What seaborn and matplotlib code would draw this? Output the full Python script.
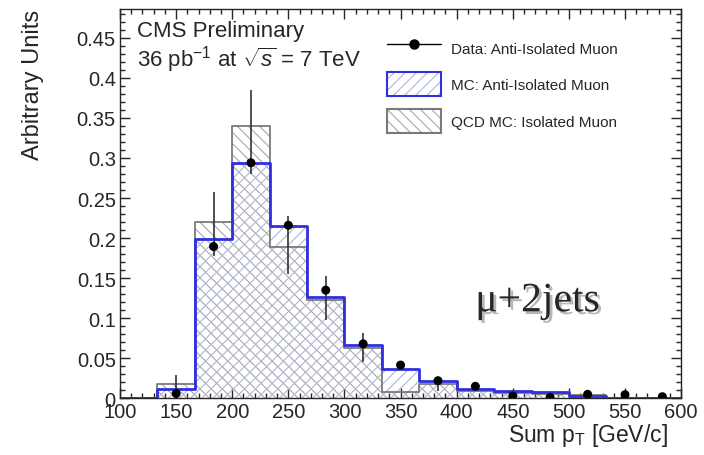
import numpy as np
import pandas as pd
import seaborn as sns
import matplotlib.pyplot as plt
import matplotlib.patheffects as pe
from matplotlib.lines import Line2D
from matplotlib.patches import Patch
from matplotlib.ticker import MultipleLocator, FuncFormatter

# histogram binning (Sum pT, GeV/c)
bin_edges = [100, 133.33, 166.67, 200, 233.33, 266.67, 300, 333.33,
             366.67, 400, 433.33, 466.67, 500, 533.33, 566.67, 600]
# QCD MC, isolated muon
qcd_iso = [0.0, 0.018, 0.220, 0.340, 0.189, 0.123, 0.063, 0.0075,
           0.018, 0.009, 0.007, 0.005, 0.004, 0.001, 0.001]
# MC, anti-isolated muon
mc_anti = [0.0, 0.0116, 0.1995, 0.294, 0.215, 0.126, 0.066, 0.0365,
           0.022, 0.0116, 0.0095, 0.0075, 0.003, 0.001, 0.001]

# data, anti-isolated muon
data_x = [150, 183.33, 216.67, 250, 283.33, 316.67, 350, 383.33,
          416.67, 450, 483.33, 516.67, 550, 583.33]
data_y = [0.006, 0.1895, 0.294, 0.216, 0.135, 0.068, 0.0415, 0.022,
          0.015, 0.003, 0.001, 0.005, 0.0045, 0.002]
data_lo = [0.0, 0.178, 0.280, 0.155, 0.098, 0.045, 0.038, 0.0095,
           0.011, 0.0, 0.0, 0.002, 0.001, 0.0]
data_hi = [0.029, 0.257, 0.385, 0.228, 0.153, 0.082, 0.045, 0.026,
           0.019, 0.007, 0.005, 0.008, 0.008, 0.005]

mc_line = "#2f2fe0"
mc_hatch = "#adb5de"
qcd_line = "#7a7a7a"
qcd_hatch = "#a8a8a8"

sns.set_style("ticks")
plt.rcParams['font.family'] = ['Liberation Sans', 'DejaVu Sans']
plt.rcParams['mathtext.fontset'] = 'custom'
plt.rcParams['mathtext.rm'] = 'Liberation Sans'
plt.rcParams['mathtext.it'] = 'Liberation Sans:italic'
plt.rcParams['hatch.linewidth'] = 0.8

fig = plt.figure(figsize=(7.04, 4.56), dpi=100)
ax = fig.add_axes([0.1705, 0.1243, 0.797, 0.8538])

centers = [(a + b) / 2 for a, b in zip(bin_edges[:-1], bin_edges[1:])]
hists = pd.DataFrame({"sum_pt": centers, "qcd": qcd_iso, "mc": mc_anti})

# hatched fills
sns.histplot(data=hists, x="sum_pt", weights="qcd", bins=bin_edges,
             element="bars", fill=True, facecolor="none", edgecolor=qcd_hatch,
             linewidth=0, hatch="\\\\\\", ax=ax)
sns.histplot(data=hists, x="sum_pt", weights="mc", bins=bin_edges,
             element="bars", fill=True, facecolor="none", edgecolor=mc_hatch,
             linewidth=0, hatch="///", ax=ax)
# outlines
sns.histplot(data=hists, x="sum_pt", weights="qcd", bins=bin_edges,
             element="step", fill=False, color=qcd_line, linewidth=1.3, ax=ax)
sns.histplot(data=hists, x="sum_pt", weights="mc", bins=bin_edges,
             element="step", fill=False, color=mc_line, linewidth=2.0, ax=ax)

# data points with errors
dy = np.array(data_y)
yerr = [dy - np.array(data_lo), np.array(data_hi) - dy]
ax.errorbar(data_x, data_y, yerr=yerr, fmt="none", ecolor="0.2",
            elinewidth=1.2, capsize=0, zorder=4)
sns.scatterplot(x=data_x, y=data_y, color="black", s=42, edgecolor="none",
                zorder=5, ax=ax)

ax.set_xlim(100, 600)
ax.set_ylim(0, 0.486)
ax.xaxis.set_major_locator(MultipleLocator(50))
ax.xaxis.set_minor_locator(MultipleLocator(10))
ax.yaxis.set_major_locator(MultipleLocator(0.05))
ax.yaxis.set_minor_locator(MultipleLocator(0.01))
ax.yaxis.set_major_formatter(FuncFormatter(lambda v, p: f"{v:g}"))
ax.tick_params(which="both", direction="in", top=True, right=True,
               labelsize=14.5, width=1)
ax.tick_params(which="major", length=7, pad=3)
ax.tick_params(which="minor", length=3.5)
for s in ax.spines.values():
    s.set_linewidth(1)

ax.set_xlabel("Sum p$_{\\mathrm{T}}$ [GeV/c]", fontsize=16.5, loc="right")
ax.xaxis.set_label_coords(0.977, -0.058)
ax.set_ylabel("Arbitrary Units", fontsize=17, loc="top")
ax.yaxis.set_label_coords(-0.135, 1.0)

ax.text(0.03, 0.9435, "CMS Preliminary", transform=ax.transAxes,
        fontsize=16, va="center")
ax.text(0.03, 0.872, "36 pb$^{-1}$ at $\\sqrt{s}$ = 7 TeV",
        transform=ax.transAxes, fontsize=16, va="center")
ax.text(0.744, 0.25, "μ+2jets", transform=ax.transAxes,
        family=["Liberation Serif", "DejaVu Serif"], fontsize=30,
        ha="center", va="center",
        path_effects=[pe.withSimplePatchShadow(offset=(2, -2),
                                               shadow_rgbFace="0.3", alpha=0.4)])

handles = [
    Line2D([], [], color="black", lw=1, marker="o", markersize=6.5),
    (Patch(facecolor="white", edgecolor=mc_hatch, hatch="///", lw=0),
     Patch(facecolor="none", edgecolor=mc_line, lw=1.5)),
    (Patch(facecolor="white", edgecolor=qcd_hatch, hatch="\\\\\\", lw=0),
     Patch(facecolor="none", edgecolor=qcd_line, lw=1.5)),
]
labels = ["Data: Anti-Isolated Muon", "MC: Anti-Isolated Muon",
          "QCD MC: Isolated Muon"]
ax.legend(handles, labels, loc="upper left", bbox_to_anchor=(0.476, 0.931),
          frameon=False, fontsize=11, handlelength=3.5, handleheight=2.0,
          handletextpad=0.65, labelspacing=0.85, borderpad=0, borderaxespad=0)

plt.savefig("out.png", dpi=100)
